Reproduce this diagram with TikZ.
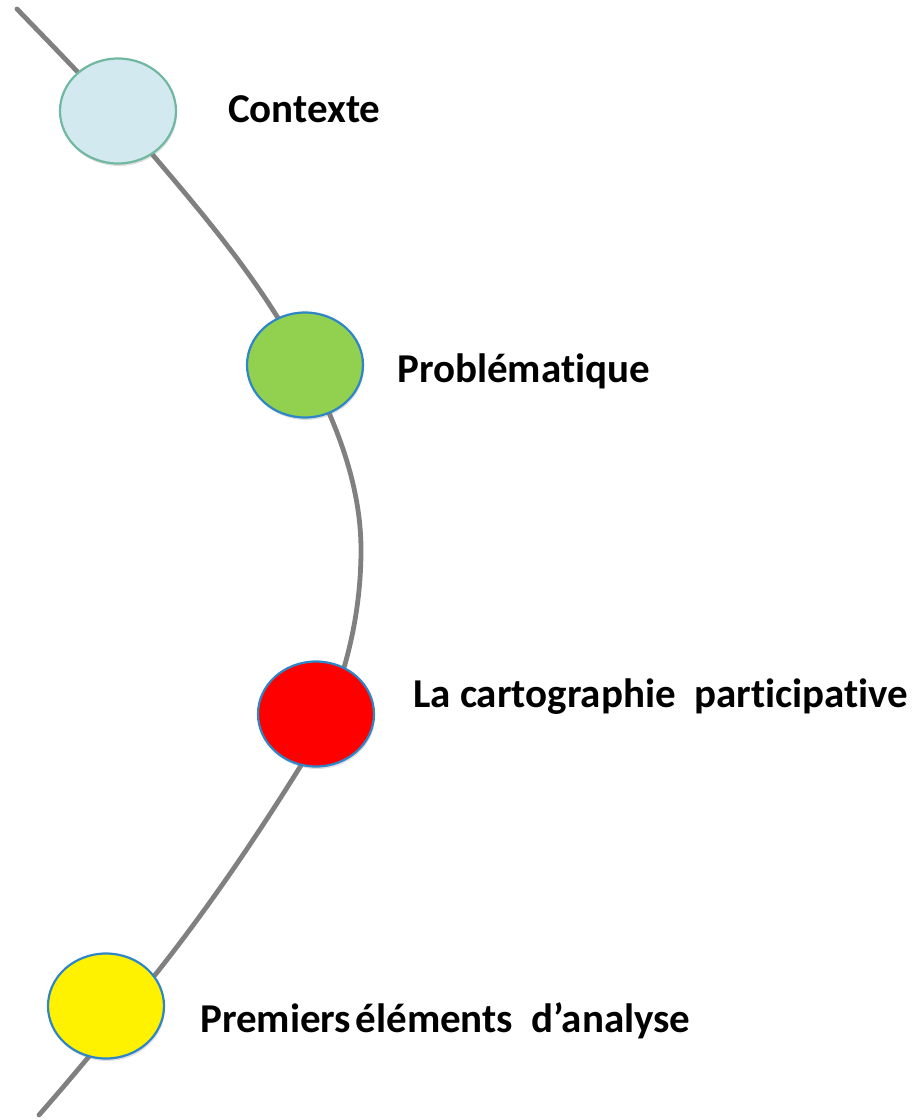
\documentclass[tikz,border=0pt]{standalone}
\usepackage{fontspec}
\setmainfont[Ligatures=NoCommon]{Carlito}
\usetikzlibrary{shapes.geometric,backgrounds,shadows}
\definecolor{ctxfill}{RGB}{211,233,240}
\definecolor{ctxline}{RGB}{112,184,160}
\definecolor{bluel}{RGB}{46,134,200}
\definecolor{greenf}{RGB}{146,208,80}
\definecolor{pathgray}{RGB}{128,128,128}
\tikzset{
  dot/.style={ellipse, minimum width=116pt, minimum height=105pt, inner sep=0pt, line width=2.2pt, draw=bluel,
    drop shadow={opacity=0.25, shadow xshift=1pt, shadow yshift=-2.5pt}},
  lbl/.style={anchor=base west, inner sep=0pt, font=\fontsize{41}{48}\selectfont\bfseries},
  track/.style={draw=pathgray, line width=4.8pt, line cap=round}
}
\begin{document}
\begin{tikzpicture}[x=1pt,y=-1pt]
\useasboundingbox (0,0) rectangle (920,1120);
\node[dot, fill=ctxfill, draw=ctxline] (c1) at (118,111) {};
\node[dot, fill=greenf] (c2) at (305,365) {};
\node[dot, fill=red] (c3) at (316,714) {};
\node[dot, fill=yellow] (c4) at (106,1006) {};
\coordinate (q0) at (17,9);
\coordinate (q1) at (152,154);
\coordinate (q2) at (278,318);
\coordinate (q3) at (361,550);
\coordinate (q4) at (300,767);
\coordinate (q5) at (155,975);
\coordinate (q6) at (39,1115);
\begin{scope}[on background layer]
\draw[track] (q0) .. controls (62.9,56.5) and (109.2,103.7) .. (q1)
  .. controls (196.7,206.6) and (241.4,259.3) .. (q2)
  .. controls (321.5,387.7) and (361,468) .. (q3)
  .. controls (361,625) and (339.8,703.2) .. (q4)
  .. controls (255.2,838.8) and (207.4,909.1) .. (q5)
  .. controls (117.4,1022.3) and (79,1069.5) .. (q6);
\end{scope}
\node[lbl] (t1) at (228,122) {Contexte};
\node[lbl] (t2) at (397,382) {Problématique};
\node[lbl] (t3) at (413,707) {La cartographie\ \ participative};
\node[lbl] (t4) at (200,1032) {Premiers\hspace{4.5pt}éléments\ \ d’analyse};
\end{tikzpicture}
\end{document}
